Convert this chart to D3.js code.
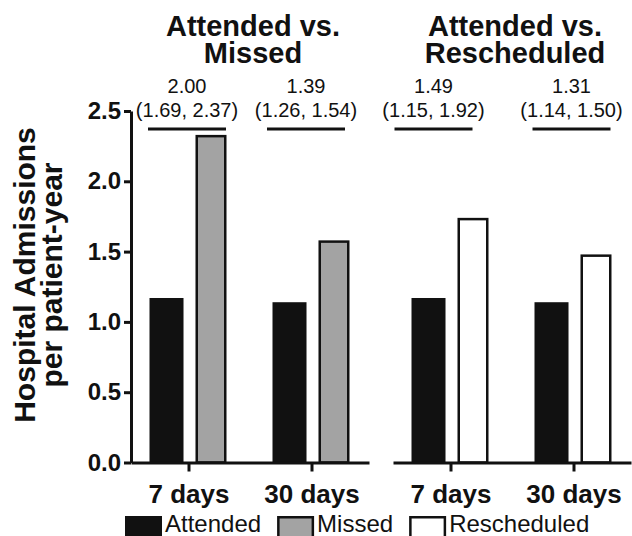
<!DOCTYPE html>
<html>
<head>
<meta charset="utf-8">
<script src="https://cdn.jsdelivr.net/npm/d3@7"></script>
<style>
  html, body { margin: 0; padding: 0; background: #fff; }
  svg { display: block; font-family: "Liberation Sans", Arial, Helvetica, sans-serif; }
</style>
</head>
<body>
<svg id="chart" width="632" height="536"></svg>
<script>
// ---------- data ----------
const categories = ["7 days", "30 days"];
const panelTitles = [["Attended vs.", "Missed"], ["Attended vs.", "Rescheduled"]];
const comparisonNames = ["Missed", "Rescheduled"];
const attendedVsMissed = [1.17, 1.14];      // Attended, panel 1
const missedValues = [2.33, 1.58];          // Missed
const attendedVsResched = [1.17, 1.14];     // Attended, panel 2
const rescheduledValues = [1.74, 1.48];     // Rescheduled
const ratioEstimates = [["2.00", "1.39"], ["1.49", "1.31"]];
const ratioIntervals = [["(1.69, 2.37)", "(1.26, 1.54)"], ["(1.15, 1.92)", "(1.14, 1.50)"]];
const yTicks = [0, 0.5, 1.0, 1.5, 2.0, 2.5];
const legendLabels = ["Attended", "Missed", "Rescheduled"];

// ---------- layout / style ----------
const colors = { Attended: "#111111", Missed: "#a3a3a3", Rescheduled: "#ffffff" };
const panelRanges = [[131, 369], [393, 631]];
const annotationShift = [[-1.5, -5.5], [-17, -2]];
const yRange = [462.5, 111];

const svg = d3.select("#chart");
const y = d3.scaleLinear().domain([0, 2.5]).range(yRange);

const panelsData = [
  { attended: attendedVsMissed, other: missedValues, name: comparisonNames[0] },
  { attended: attendedVsResched, other: rescheduledValues, name: comparisonNames[1] }
];

const inner = d3.scaleBand().domain(["Attended", "Other"]).range([-39, 38]).paddingInner(0.209);

panelsData.forEach((p, pi) => {
  const x = d3.scalePoint().domain(categories).range(panelRanges[pi]).padding(0.4675);
  const g = svg.append("g");

  // title
  const cx = (panelRanges[pi][0] + panelRanges[pi][1]) / 2 + 3;
  panelTitles[pi].forEach((t, li) => {
    g.append("text").attr("x", cx).attr("y", 36 + li * 27)
      .attr("text-anchor", "middle").attr("font-size", 29).attr("font-weight", "bold")
      .attr("fill", "#111").text(t);
  });

  // bars
  categories.forEach((c, ci) => {
    const base = x(c);
    g.append("rect")
      .attr("x", base + inner("Attended"))
      .attr("y", y(p.attended[ci]))
      .attr("width", inner.bandwidth())
      .attr("height", y(0) - y(p.attended[ci]))
      .attr("fill", colors.Attended);
    const sw = 2.5;
    g.append("rect")
      .attr("x", base + inner("Other") + 3 + sw / 2)
      .attr("y", y(p.other[ci]) + sw / 2)
      .attr("width", inner.bandwidth() - 3 - sw)
      .attr("height", y(0) - y(p.other[ci]) - sw / 2)
      .attr("fill", colors[p.name])
      .attr("stroke", "#111").attr("stroke-width", sw);

    // annotation
    const ax = base + annotationShift[pi][ci];
    g.append("text").attr("x", ax).attr("y", 93).attr("text-anchor", "middle")
      .attr("font-size", 20).attr("fill", "#111").text(ratioEstimates[pi][ci]);
    g.append("text").attr("x", ax).attr("y", 117).attr("text-anchor", "middle")
      .attr("font-size", 20).attr("fill", "#111").text(ratioIntervals[pi][ci]);
    g.append("line").attr("x1", ax - 39).attr("x2", ax + 39)
      .attr("y1", 129).attr("y2", 129).attr("stroke", "#111").attr("stroke-width", 3);
  });

  // x axis
  const xa = g.append("g").attr("transform", `translate(0,${y(0)})`)
    .call(d3.axisBottom(x).tickSizeInner(9).tickSizeOuter(0).tickPadding(8));
  xa.attr("font-family", null);
  xa.select(".domain").attr("stroke", "#111").attr("stroke-width", 3);
  xa.selectAll(".tick line").attr("stroke", "#111").attr("stroke-width", 3);
  xa.selectAll(".tick text").attr("font-size", 26).attr("font-weight", "bold")
    .attr("fill", "#111").attr("dy", "0.9em");
});

// y axis
const ya = svg.append("g").attr("transform", `translate(${panelRanges[0][0]},0)`)
  .call(d3.axisLeft(y).tickValues(yTicks).tickFormat(d3.format(".1f"))
    .tickSizeInner(7).tickSizeOuter(0).tickPadding(3));
ya.attr("font-family", null);
ya.select(".domain").attr("stroke", "#111").attr("stroke-width", 3);
ya.selectAll(".tick line").attr("stroke", "#111").attr("stroke-width", 3);
ya.selectAll(".tick text").attr("font-size", 24).attr("font-weight", "bold").attr("fill", "#111");

// y axis title
const yTitle = ["Hospital Admissions", "per patient-year"];
yTitle.forEach((t, i) => {
  svg.append("text")
    .attr("transform", `translate(${35 + i * 27},275) rotate(-90)`)
    .attr("text-anchor", "middle").attr("font-size", 30).attr("font-weight", "bold")
    .attr("fill", "#111").text(t);
});

// legend
let lx = 125;
legendLabels.forEach((lab) => {
  const sw = lab === "Attended" ? 0 : 2.5;
  svg.append("rect").attr("x", lx + sw / 2).attr("y", 516 + sw / 2)
    .attr("width", 37 - sw).attr("height", 22)
    .attr("fill", colors[lab]).attr("stroke", sw ? "#111" : "none").attr("stroke-width", sw);
  const t = svg.append("text").attr("x", lx + 40).attr("y", 532)
    .attr("font-size", 24).attr("fill", "#111").text(lab);
  lx = lx + 40 + t.node().getComputedTextLength() + 16;
});
</script>
</body>
</html>
